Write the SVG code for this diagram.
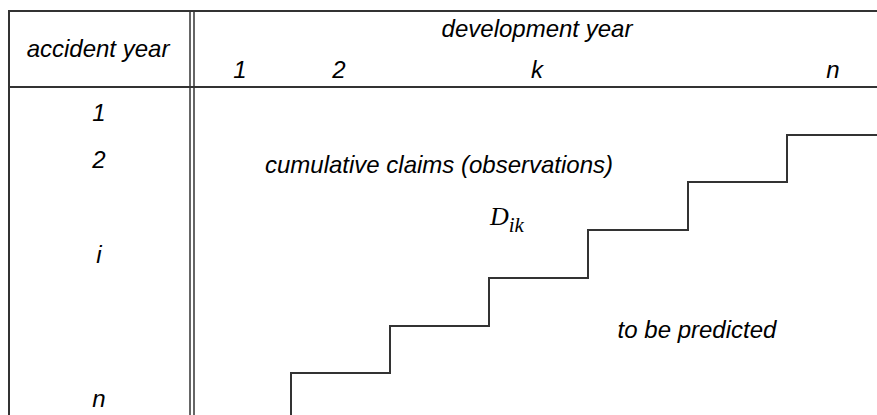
<svg xmlns="http://www.w3.org/2000/svg" width="877" height="415" viewBox="0 0 877 415">
<style>
.t{font-family:"Liberation Sans",Arial,sans-serif;font-style:italic;font-size:24px;fill:#000;text-anchor:middle}
.m{font-family:"Liberation Serif","DejaVu Serif",serif;font-style:italic;fill:#000}
.b{stroke:#333;stroke-width:2;fill:none}
.d{stroke:#333;stroke-width:1.5;fill:none}
</style>
<rect width="877" height="415" fill="#fff"/>
<g id="table">
<line class="b" x1="9" y1="11" x2="877" y2="11"/>
<line class="b" x1="9" y1="87" x2="877" y2="87"/>
<line class="b" x1="9" y1="10" x2="9" y2="415"/>
<line class="d" x1="190" y1="11" x2="190" y2="415"/>
<line class="d" x1="194" y1="11" x2="194" y2="415"/>
</g>
<g id="header">
<text class="t" x="98" y="57">accident year</text>
<text class="t" x="537" y="37">development year</text>
<text class="t" x="240" y="78">1</text>
<text class="t" x="339" y="78">2</text>
<text class="t" x="537" y="78">k</text>
<text class="t" x="833" y="78">n</text>
</g>
<g id="rows">
<text class="t" x="99" y="121">1</text>
<text class="t" x="99" y="168">2</text>
<text class="t" x="99" y="263">i</text>
<text class="t" x="99" y="407">n</text>
</g>
<g id="observed">
<text class="t" x="439" y="173">cumulative claims (observations)</text>
<text class="m" x="490" y="225" font-size="26">D<tspan font-size="21" dy="7">ik</tspan></text>
</g>
<g id="predicted">
<text class="t" x="697" y="338">to be predicted</text>
</g>
<g id="connectors">
<path class="b" d="M291,415 V373 H390 V326 H489 V278 H588 V230 H688 V182 H787 V135 H877"/>
</g>
</svg>
